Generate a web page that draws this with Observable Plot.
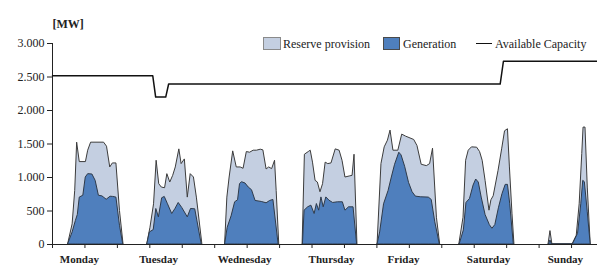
<!DOCTYPE html>
<html><head><meta charset="utf-8">
<script src="https://cdn.jsdelivr.net/npm/d3@7"></script>
<script src="https://cdn.jsdelivr.net/npm/@observablehq/plot@0.6"></script>
<style>
body{margin:0;background:#fff;}
#wrap{position:relative;width:597px;height:266px;font-family:"Liberation Serif","Times New Roman",Times,"DejaVu Serif",serif;}
#wrap svg, #wrap svg text{font-family:"Liberation Serif","Times New Roman",Times,"DejaVu Serif",serif !important;}
.lg{position:absolute;font-size:12px;line-height:14px;color:#222;white-space:nowrap;}
.sw{position:absolute;box-sizing:border-box;}
</style></head><body><div id="wrap"></div>
<script>
// hours since Monday 00:00, MW
const dayNames = ["Monday","Tuesday","Wednesday","Thursday","Friday","Saturday","Sunday"];
const dayLabelHours = [8.3, 32.7, 59.2, 86.0, 108.2, 134.4, 158.1];
const yTicks = [0, 500, 1000, 1500, 2000, 2500, 3000];
const xTicks = [0,10,20,30,40,50,60,70,80,90,100,110,120,130,140,150,160];

// top of the reserve provision band (generation + reserve)
const reserveTopPts = [
  [4.8,0],[6.2,300],[7.0,800],[7.6,1520],[8.4,1230],[10.3,1230],[11.0,1400],[11.9,1520],[15.9,1520],[16.8,1460],[17.8,1150],[18.6,1210],[19.7,1210],[20.8,500],[21.9,0],
  [29.2,0],[30.2,250],[31.3,600],[32.1,1250],[32.9,900],[33.7,850],[34.7,840],[35.4,1050],[36.3,925],[37.2,1025],[38.0,1150],[39.1,1420],[39.8,1200],[40.8,1270],[41.7,700],[42.6,1050],[43.6,1000],[44.5,700],[46.2,0],
  [53.2,0],[53.9,700],[54.6,1000],[55.7,1390],[56.8,1150],[58.0,1150],[58.9,1130],[59.9,1380],[60.9,1370],[62.0,1400],[63.0,1400],[64.2,1415],[65.0,1405],[66.0,1120],[66.8,1150],[67.7,1125],[68.6,1250],[69.1,800],[69.9,0],
  [77.1,0],[77.8,1340],[79.0,1380],[79.6,1400],[80.3,1222],[81.1,950],[81.8,925],[82.6,780],[83.4,900],[84.2,1222],[85.0,1200],[86.0,1210],[87.3,1420],[88.5,1400],[89.4,1250],[90.3,1000],[91.6,1015],[92.5,1025],[93.1,1340],[94.0,0],
  [100.2,0],[101.4,1200],[102.4,1450],[103.4,1550],[104.2,1700],[105.1,1400],[106.6,1400],[107.8,1640],[109.0,1610],[111.5,1560],[112.5,1470],[113.8,1190],[115.4,1170],[116.4,1200],[117.3,1430],[118.5,400],[119.5,0],
  [125.4,0],[126.7,400],[127.5,1250],[128.3,1400],[129.3,1450],[130.9,1445],[131.8,1380],[132.6,1250],[133.5,950],[134.7,505],[135.3,660],[136.0,720],[137.5,1100],[138.6,1420],[139.5,1690],[140.4,1720],[141.0,1150],[141.8,450],[142.4,0],
  [152.9,0],[153.5,200],[154.1,0],[160.3,0],[161.6,130],[162.5,600],[163.3,1350],[163.7,1745],[164.3,1745],[165.0,850],[165.9,0]
];

const generationPts = [
  [4.8,0],[6.2,180],[7.2,350],[7.8,440],[8.4,700],[9.5,728],[10.25,1000],[11.0,1050],[12.3,1045],[13.3,950],[14.3,728],[15.4,718],[16.7,668],[17.9,713],[18.7,710],[19.7,700],[20.8,280],[21.8,0],
  [29.2,0],[30.0,180],[31.2,215],[32.0,530],[32.8,405],[33.8,690],[34.6,710],[35.6,600],[36.9,455],[37.9,530],[38.9,620],[40.0,545],[41.7,405],[42.7,530],[44.0,525],[46.0,0],
  [53.2,0],[54.0,250],[55.2,420],[56.3,630],[57.2,660],[57.8,900],[58.4,930],[59.5,910],[60.5,850],[61.5,810],[62.6,650],[64.5,635],[66.0,615],[67.1,650],[68.1,665],[69.7,0],
  [77.2,0],[77.7,505],[78.8,555],[79.8,580],[80.8,455],[81.5,604],[82.2,505],[82.9,703],[83.6,555],[84.4,703],[85.4,653],[86.5,620],[88.0,630],[89.5,630],[90.3,505],[91.4,555],[92.8,555],[93.9,0],
  [100.2,0],[101.0,180],[102.2,600],[103.6,800],[104.6,1000],[105.6,1190],[106.9,1370],[107.6,1330],[108.7,1160],[109.9,920],[111.0,780],[112.0,715],[113.5,705],[116.0,700],[116.9,665],[118.0,330],[119.4,0],
  [125.5,0],[126.8,210],[127.6,620],[128.7,680],[129.8,880],[130.6,970],[131.4,925],[132.3,700],[133.5,440],[134.8,290],[135.6,235],[136.5,290],[137.6,540],[138.7,750],[139.7,890],[140.4,890],[141.1,600],[142.2,0],
  [153.0,0],[153.5,60],[154.0,0],[160.4,0],[162.0,160],[163.0,600],[163.6,950],[164.1,930],[165.0,480],[165.9,0]
];

const capacityPts = [[0,2520],[30.9,2520],[31.8,2200],[34.9,2200],[35.8,2395],[138.0,2395],[139.0,2735],[168,2735]];

const fmt = d => d3.format(",")(d).replace(/,/g, ".");
const day = d => Math.floor(d[0] / 24);
const serif = "'Liberation Serif', 'Times New Roman', Times, 'DejaVu Serif', serif";

const chart = Plot.plot({
  width: 597, height: 266,
  marginLeft: 52, marginRight: 0, marginTop: 43, marginBottom: 22,
  style: {fontFamily: serif, fontSize: "12px", color: "#222", background: "#fff", overflow: "visible"},
  x: {domain: [0, 168], ticks: xTicks, tickFormat: () => "", tickSize: 4, label: null},
  y: {domain: [0, 3000], ticks: yTicks, tickFormat: fmt, tickSize: 5, tickPadding: 3, line: true, label: null},
  marks: [
    Plot.areaY(reserveTopPts, {x: d => d[0], y: d => d[1], z: day, fill: "#c4cfe1", stroke: "#3c3c3c", strokeWidth: 1}),
    Plot.areaY(generationPts, {x: d => d[0], y: d => d[1], z: day, fill: "#4f7fbd", stroke: "#2e3a4a", strokeWidth: 1}),
    Plot.line(capacityPts, {x: d => d[0], y: d => d[1], stroke: "#111", strokeWidth: 1.5}),
    Plot.ruleY([0], {stroke: "#222"}),
    Plot.text(dayNames, {x: (d, i) => dayLabelHours[i], y: () => 0, dy: 15, text: d => d, fontWeight: "bold", fontSize: 11, fill: "#222"}),
    Plot.text(["[MW]"], {frameAnchor: "top-left", dy: -24, text: d => d, fontWeight: "bold", fontSize: 12, fill: "#222"})
  ]
});
const wrap = document.getElementById("wrap");
wrap.appendChild(chart);

const legend = [
  {type: "sw", left: 263, top: 37, w: 18, h: 13, bg: "#c4cfe1", border: "#8a8a8a"},
  {type: "tx", left: 283, top: 37, text: "Reserve provision"},
  {type: "sw", left: 383, top: 37, w: 17, h: 13, bg: "#4f7fbd", border: "#4a4a4a"},
  {type: "tx", left: 403, top: 37, text: "Generation"},
  {type: "ln", left: 476, top: 43, w: 16},
  {type: "tx", left: 495, top: 37, text: "Available Capacity"}
];
for (const it of legend) {
  const el = document.createElement("div");
  if (it.type === "sw") {
    el.className = "sw";
    Object.assign(el.style, {left: it.left + "px", top: it.top + "px", width: it.w + "px", height: it.h + "px", background: it.bg, border: "1px solid " + it.border});
  } else if (it.type === "ln") {
    el.className = "sw";
    Object.assign(el.style, {left: it.left + "px", top: it.top + "px", width: it.w + "px", height: "0px", borderTop: "1.5px solid #111"});
  } else {
    el.className = "lg";
    el.textContent = it.text;
    Object.assign(el.style, {left: it.left + "px", top: it.top + "px"});
  }
  wrap.appendChild(el);
}
</script></body></html>
